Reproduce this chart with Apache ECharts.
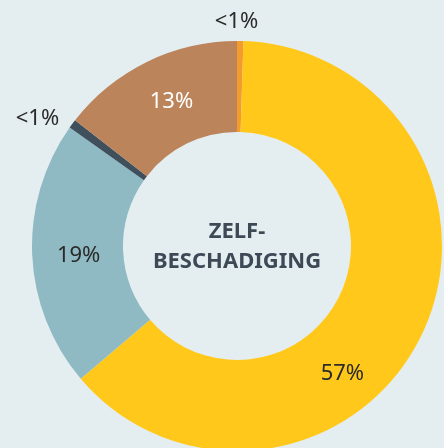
<!DOCTYPE html>
<html>
<head>
<meta charset="utf-8">
<style>
  html, body { margin: 0; padding: 0; background: #e4eef1; }
  #chart { width: 444px; height: 448px; }
</style>
<script src="https://cdn.jsdelivr.net/npm/echarts@6/dist/echarts.min.js"></script>
</head>
<body>
<div id="chart"></div>
<script>
// Data (clockwise from 12 o'clock)
const categories = ['A', 'B', 'C', 'D', 'E'];
const values = [0.5, 63.3, 21.0, 0.7, 14.5];
const labelTexts = ['<1%', '57%', '19%', '<1%', '13%'];
const centerTitle = 'ZELF-\nBESCHADIGING';

// Styles
const colors = ['#f39b2c', '#ffc81b', '#8fbac3', '#3f4f5c', '#bc845a'];
const labelColors = ['#2a2a2a', '#2a2a2a', '#2a2a2a', '#2a2a2a', '#ffffff'];
const labelShift = [[-3, -62], [-41, 57], [4, 3], [-69, -31], [6, 2]];

const chart = echarts.init(document.getElementById('chart'), null, { renderer: 'canvas' });
const FONT = '"Noto Sans", "Open Sans", sans-serif';

chart.setOption({
  backgroundColor: '#e4eef1',
  animation: false,
  graphic: [{
    type: 'text',
    x: 237, y: 247,
    style: {
      text: centerTitle,
      align: 'center',
      verticalAlign: 'middle',
      fontFamily: FONT,
      fontWeight: 'bold',
      fontSize: 22,
      lineHeight: 30,
      fill: '#3d4a56'
    },
    z: 100
  }],
  series: [{
    type: 'pie',
    center: [237, 246],
    radius: [114, 205],
    startAngle: 90,
    clockwise: true,
    avoidLabelOverlap: false,
    silent: true,
    label: {
      show: true,
      position: 'inside',
      fontFamily: FONT,
      fontSize: 22,
      formatter: p => labelTexts[p.dataIndex]
    },
    labelLine: { show: false },
    labelLayout: function (p) {
      const s = labelShift[p.dataIndex];
      return { dx: s[0], dy: s[1] };
    },
    itemStyle: { borderWidth: 0 },
    data: categories.map((c, i) => ({
      name: c,
      value: values[i],
      itemStyle: { color: colors[i] },
      label: { color: labelColors[i] }
    }))
  }]
});
</script>
</body>
</html>
